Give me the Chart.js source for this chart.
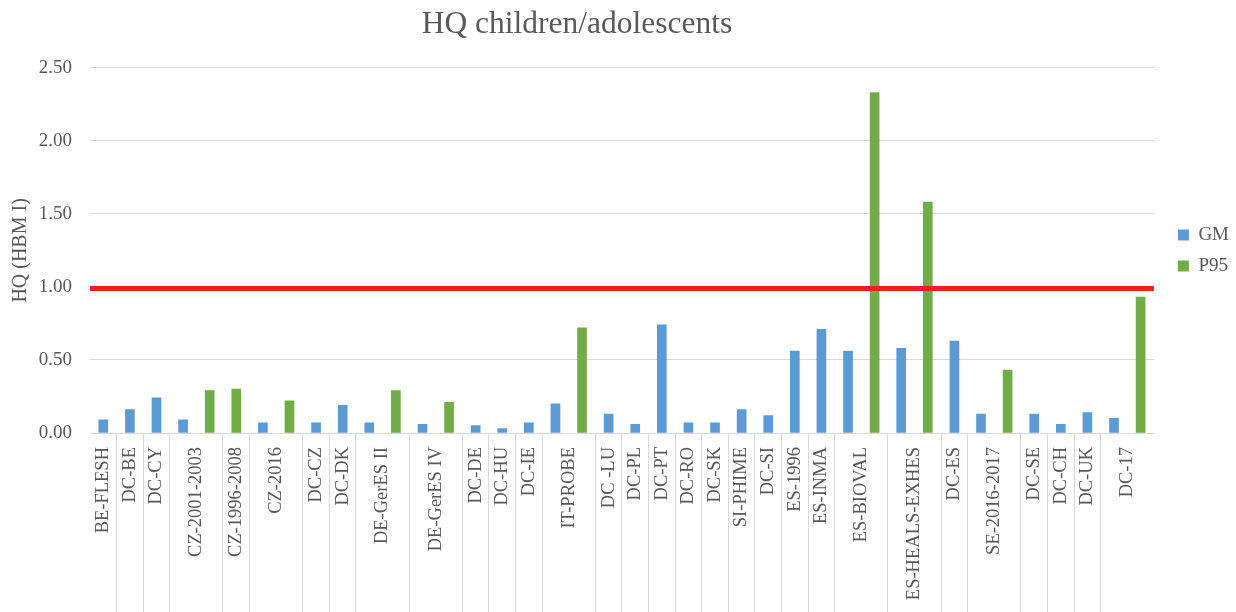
<!DOCTYPE html>
<html>
<head>
<meta charset="utf-8">
<script src="https://cdn.jsdelivr.net/npm/chart.js@4"></script>
<style>
  html, body { margin: 0; padding: 0; background: #ffffff; }
  #wrap { width: 1236px; height: 612px; position: relative; }
</style>
</head>
<body>
<div id="wrap"><canvas id="c"></canvas></div>
<script>
// ---- data ----
const categories = [
  'BE-FLESH', 'DC-BE', 'DC-CY', 'CZ-2001-2003', 'CZ-1996-2008', 'CZ-2016',
  'DC-CZ', 'DC-DK', 'DE-GerES II', 'DE-GerES IV', 'DC-DE', 'DC-HU', 'DC-IE',
  'IT-PROBE', 'DC -LU', 'DC-PL', 'DC-PT', 'DC-RO', 'DC-SK', 'SI-PHIME', 'DC-SI',
  'ES-1996', 'ES-INMA', 'ES-BIOVAL', 'ES-HEALS-EXHES', 'DC-ES', 'SE-2016-2017',
  'DC-SE', 'DC-CH', 'DC-UK', 'DC-17'
];
const gmValues = [
  0.09, 0.16, 0.24, 0.09, null, 0.07,
  0.07, 0.19, 0.07, 0.06, 0.05, 0.03, 0.07,
  0.20, 0.13, 0.06, 0.74, 0.07, 0.07, 0.16, 0.12,
  0.56, 0.71, 0.56, 0.58, 0.63, 0.13,
  0.13, 0.06, 0.14, 0.10
];
const p95Values = [
  null, null, null, 0.29, 0.30, 0.22,
  null, null, 0.29, 0.21, null, null, null,
  0.72, null, null, null, null, null, null, null,
  null, null, 2.33, 1.58, null, 0.43,
  null, null, null, 0.93
];
const seriesNames = ['GM', 'P95'];
const yTicks = [0, 0.5, 1.0, 1.5, 2.0, 2.5];
const thresholdValue = 0.99;
const chartTitle = 'HQ children/adolescents';
const yAxisTitle = 'HQ (HBM I)';

// ---- derive slot positions (one slot per bar) ----
const gmPoints = [], p95Points = [], groupCenters = [], boundaries = [];
let slot = 0;
categories.forEach((name, i) => {
  const first = slot + 1;
  if (gmValues[i] !== null) { slot++; gmPoints.push({ x: slot, y: gmValues[i] }); }
  if (p95Values[i] !== null) { slot++; p95Points.push({ x: slot, y: p95Values[i] }); }
  groupCenters.push({ value: (first + slot) / 2, label: name });
  if (i < categories.length - 1) boundaries.push(slot + 0.5);
});
const xMin = 0.5, xMax = slot + 0.5;
const labelByValue = new Map(groupCenters.map(g => [g.value, g.label]));

const FONT = "'Liberation Serif', 'Times New Roman', serif";
const TXT = '#595959';
const GRID = '#d9d9d9';

// center the title over the area left of the legend (as in the reference)
const titleOverPlot = {
  id: 'titleOverPlot',
  afterLayout(chart) {
    if (chart.titleBlock) {
      chart.titleBlock.left = 0;
      chart.titleBlock.right = chart.chartArea.right;
    }
  }
};

new Chart(document.getElementById('c'), {
  type: 'bar',
  plugins: [titleOverPlot],
  data: {
    datasets: [
      { type: 'line', label: 'threshold', data: [{ x: xMin, y: thresholdValue }, { x: xMax, y: thresholdValue }],
        borderColor: '#ee1c25', borderWidth: 5, pointRadius: 0, order: 0, clip: false },
      { label: seriesNames[0], data: gmPoints, backgroundColor: '#5b9bd5', grouped: false,
        barThickness: 9, order: 1 },
      { label: seriesNames[1], data: p95Points, backgroundColor: '#70ad47', grouped: false,
        barThickness: 9, order: 2 }
    ]
  },
  options: {
    responsive: true,
    maintainAspectRatio: false,
    animation: false,
    layout: { padding: { left: 0, right: -3, top: 0, bottom: 0 } },
    plugins: {
      tooltip: { enabled: false },
      title: {
        display: true, text: chartTitle, color: TXT,
        font: { family: FONT, size: 31.5, weight: 'normal' },
        padding: { top: 6, bottom: 24 }
      },
      legend: {
        position: 'right',
        fullSize: false,
        labels: {
          color: TXT, font: { family: FONT, size: 19 },
          boxWidth: 11, boxHeight: 11, padding: 12,
          filter: (item) => item.text !== 'threshold'
        }
      }
    },
    scales: {
      x: {
        type: 'linear', position: 'bottom', min: xMin, max: xMax,
        offset: false,
        afterBuildTicks: (scale) => {
          const t = boundaries.map(v => ({ value: v }))
            .concat(groupCenters.map(g => ({ value: g.value })));
          t.sort((a, b) => a.value - b.value);
          scale.ticks = t;
        },
        afterFit: (scale) => { scale.height = 179; },
        ticks: {
          autoSkip: false, minRotation: 90, maxRotation: 90,
          padding: -166, color: TXT,
          font: { family: FONT, size: 18.5 },
          callback: (v) => labelByValue.has(v) ? labelByValue.get(v) : ''
        },
        grid: {
          offset: false, drawOnChartArea: false, drawTicks: true, tickLength: 180,
          color: (ctx) => (ctx.tick && labelByValue.has(ctx.tick.value)) ? 'rgba(0,0,0,0)' : GRID,
          lineWidth: 1
        },
        border: { display: true, color: GRID, width: 1 }
      },
      y: {
        type: 'linear', position: 'left', min: 0, max: 2.5,
        afterBuildTicks: (scale) => { scale.ticks = yTicks.map(v => ({ value: v })); },
        afterFit: (scale) => { scale.width = 90; },
        ticks: {
          padding: 18, color: TXT, font: { family: FONT, size: 19 },
          callback: (v) => Number(v).toFixed(2)
        },
        grid: { color: GRID, lineWidth: 1, drawTicks: false },
        border: { display: false },
        title: {
          display: true, text: yAxisTitle, color: TXT,
          font: { family: FONT, size: 20 }, padding: { top: 9, bottom: 0 }
        }
      },
      yR: {
        type: 'linear', position: 'right', display: true,
        grid: { display: false }, ticks: { display: false }, border: { display: false },
        afterFit: (scale) => { scale.width = 12; }
      }
    }
  }
});
</script>
</body>
</html>
